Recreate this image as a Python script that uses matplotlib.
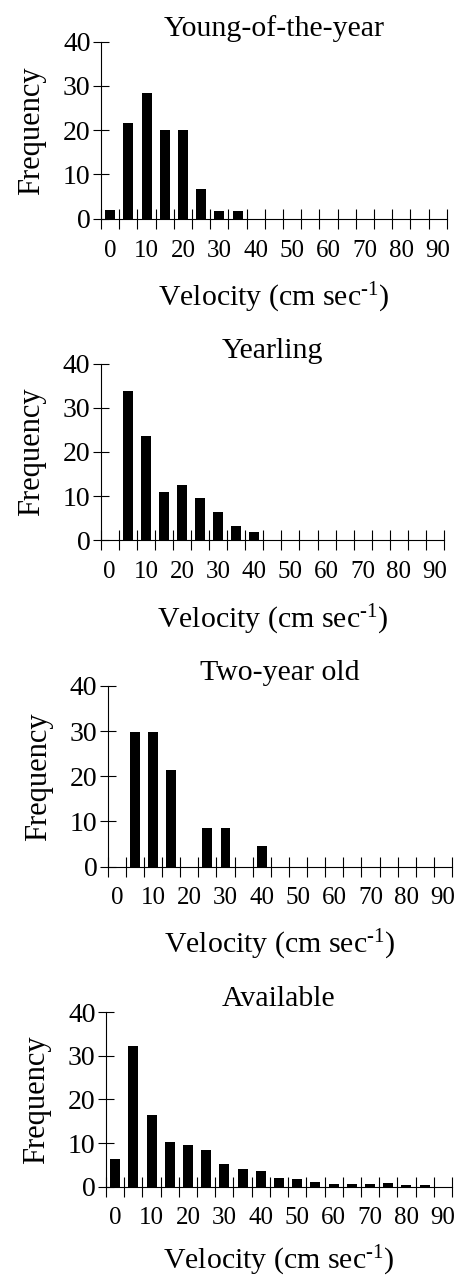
import numpy as np
import matplotlib
matplotlib.use("Agg")
import matplotlib.pyplot as plt

plt.rcParams['font.family'] = ['Liberation Serif', 'DejaVu Serif']
plt.rcParams['mathtext.fontset'] = 'custom'
plt.rcParams['mathtext.rm'] = 'Liberation Serif'
plt.rcParams['mathtext.it'] = 'Liberation Serif:italic'

# velocity classes (cm/s), one bar per 5 cm/s class
velocity = [0, 5, 10, 15, 20, 25, 30, 35, 40, 45, 50, 55, 60, 65, 70, 75, 80, 85, 90]
tick_labels = ['0', '10', '20', '30', '40', '50', '60', '70', '80', '90']

young = [2.0, 21.7, 28.4, 20.0, 20.0, 6.8, 1.8, 1.8, 0, 0, 0, 0, 0, 0, 0, 0, 0, 0, 0]
yearling = [0, 33.9, 23.5, 11.0, 12.6, 9.5, 6.5, 3.3, 1.9, 0, 0, 0, 0, 0, 0, 0, 0, 0, 0]
two_year = [0, 29.7, 29.7, 21.3, 0, 8.6, 8.5, 0, 4.5, 0, 0, 0, 0, 0, 0, 0, 0, 0, 0]
available = [6.3, 32.3, 16.5, 10.2, 9.5, 8.5, 5.3, 4.1, 3.5, 2.0, 1.8, 1.1, 0.7, 0.7, 0.7, 0.9, 0.4, 0.4, 0]

panels = [
    ('Young-of-the-year', young, [0.222, 0.829, 0.760, 0.1384], 14),
    ('Yearling', yearling, [0.2213, 0.5776, 0.7545, 0.1381], 14),
    ('Two-year old', two_year, [0.2367, 0.3224, 0.7567, 0.1413], 13),
    ('Available', available, [0.233, 0.0722, 0.7604, 0.1364], 10),
]

fig = plt.figure(figsize=(4.55, 12.79), dpi=100)

for title, vals, rect, xpad in panels:
    ax = fig.add_axes(rect)
    x = np.arange(len(velocity))
    ax.bar(x, vals, width=0.55, color='black')
    ax.set_xlim(-0.5, len(velocity) - 0.5)
    ax.set_ylim(0, 40)
    ax.set_yticks([0, 10, 20, 30, 40])
    ax.tick_params(axis='y', direction='inout', length=11, width=0.8, labelsize=20, pad=2)

    # ticks on class boundaries, labels under every other class
    ax.set_xticks(np.arange(len(velocity) + 1) - 0.5)
    ax.set_xticklabels([])
    ax.set_xticks(x[::2], minor=True)
    ax.set_xticklabels(tick_labels, minor=True)
    ax.tick_params(axis='x', which='major', direction='inout', length=14, width=0.8)
    ax.tick_params(axis='x', which='minor', length=0, labelsize=18, pad=15)

    for s in ['top', 'right']:
        ax.spines[s].set_visible(False)
    ax.spines['left'].set_linewidth(0.8)
    ax.spines['bottom'].set_linewidth(0.8)

    ax.set_title(title, fontsize=21.5, pad=2)
    ax.set_ylabel('Frequency', fontsize=22, labelpad=12)
    ax.set_xlabel('Velocity (cm sec$^{\\text{-1}}$)', fontsize=21.5, labelpad=xpad)

fig.savefig('out.png', dpi=100)
